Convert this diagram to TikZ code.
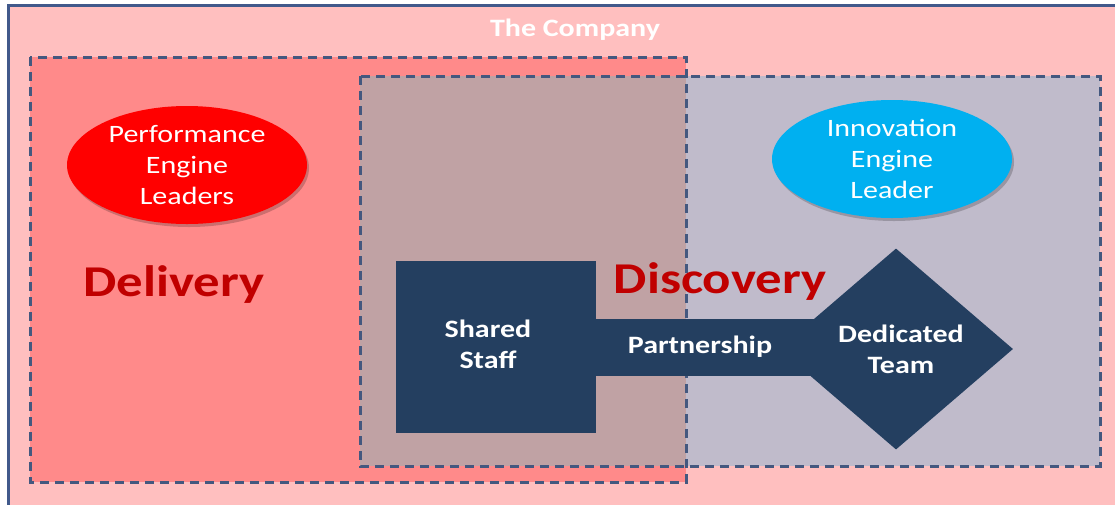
\documentclass[tikz,border=0pt]{standalone}
\usepackage{fontspec}
\newfontfamily\calib[FakeStretch=1.2]{Carlito}
\usetikzlibrary{shapes.geometric,shadows}

\definecolor{companyfill}{HTML}{FFBFBF}
\definecolor{companyline}{HTML}{41598B}
\definecolor{deliveryfill}{HTML}{FF8A8A}
\definecolor{discoveryfill}{HTML}{C0BBCB}
\definecolor{overlapfill}{HTML}{C0A2A4}
\definecolor{dashblue}{HTML}{44587F}
\definecolor{navyfill}{HTML}{243F60}
\definecolor{darkred}{HTML}{C00000}
\definecolor{perfred}{HTML}{FF0000}
\definecolor{innocyan}{HTML}{00B0F0}

\begin{document}
\begin{tikzpicture}[x=1pt,y=-1pt,
  dashzone/.style={draw=dashblue, line width=3pt, dash pattern=on 9pt off 6pt},
  leader/.style={ellipse, minimum width=240pt, minimum height=118pt, inner sep=0pt,
    align=center, text=white, font=\calib\fontsize{25}{31}\selectfont,
    drop shadow={shadow xshift=2pt, shadow yshift=-3pt, opacity=0.2, fill=black}},
  navybox/.style={fill=navyfill, draw=none, inner sep=0pt},
  boxtext/.style={text=white, align=center, inner sep=0pt,
    font=\calib\bfseries\fontsize{25}{31}\selectfont},
  zonetitle/.style={text=darkred, inner sep=0pt,
    font=\calib\bfseries\fontsize{44}{52}\selectfont},
  companytitle/.style={text=white, inner sep=0pt,
    font=\calib\bfseries\fontsize{25}{30}\selectfont}]
\useasboundingbox (0,0) rectangle (1115,504);

% the company: background with its left and top edges
\fill[companyfill] (8,5) rectangle (1130,520);
\draw[companyline, line width=3pt] (8,520) -- (8,5) -- (1130,5);

% delivery and discovery zones with their overlap
\fill[deliveryfill] (30,57) rectangle (686,482);
\fill[discoveryfill] (360,76) rectangle (1100,466);
\fill[overlapfill] (360,76) rectangle (686,466);
\draw[dashzone] (30,57) rectangle (686,482);
\draw[dashzone] (360,76) rectangle (1100,466);

\node[companytitle, anchor=base] (company) at (575,36) {The Company};

% leaders
\node[leader, fill=perfred] (perf) at (187,165) {Performance\\Engine\\Leaders};
\node[leader, fill=innocyan] (inno) at (892,159) {Innovation\\Engine\\Leader};

% shared staff, dedicated team and the partnership between them
\node[navybox, minimum width=200pt, minimum height=172pt] (shared) at (496,347) {};
\node[navybox, diamond, minimum width=234pt, minimum height=201pt] (team) at (896,349) {};
\draw[navyfill, line width=57pt] (shared.east) -- (shared.east -| team.center);

\node[boxtext] (sharedtxt) at (488,344) {Shared\\Staff};
\node[boxtext, anchor=base] (partner) at (700,353) {Partnership};
\node[boxtext] (teamtxt) at (901,349) {Dedicated\\Team};

% zone titles
\node[zonetitle, anchor=base] (delivery) at (174,296) {Delivery};
\node[zonetitle, anchor=base] (discovery) at (720,293) {Discovery};
\end{tikzpicture}
\end{document}
